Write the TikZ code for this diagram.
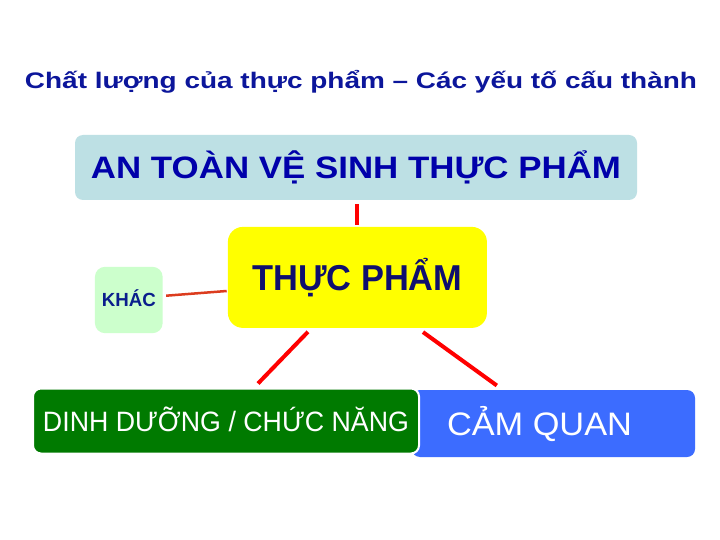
\documentclass[tikz,border=0pt]{standalone}
\usepackage{fontspec}
\setmainfont{Liberation Sans}
\usetikzlibrary{calc}
\newcommand{\fitw}[2]{\resizebox{#1}{\height}{#2}}
\definecolor{titleblue}{RGB}{12,22,155}
\definecolor{topfill}{RGB}{189,224,228}
\definecolor{toptext}{RGB}{0,0,170}
\definecolor{foodtext}{RGB}{15,15,110}
\definecolor{khacfill}{RGB}{204,255,204}
\definecolor{khactext}{RGB}{10,30,140}
\definecolor{boxgreen}{RGB}{0,122,0}
\definecolor{boxblue}{RGB}{60,108,255}
\definecolor{boxyellow}{RGB}{255,255,0}
\definecolor{linered}{RGB}{255,0,0}
\definecolor{lineorange}{RGB}{220,60,30}
\tikzset{
  box/.style={rectangle, inner sep=0pt, align=center},
  redline/.style={draw=linered, line width=4pt},
  thinline/.style={draw=lineorange, line width=2.5pt}
}
\begin{document}
\begin{tikzpicture}[x=1pt,y=-1pt]
\useasboundingbox[fill=white] (0,0) rectangle (720,540);
% title
\node[box, text=titleblue, text height=16pt, text depth=0pt] (title) at (361,80.5)
  {\fontsize{22.5}{22.5}\selectfont\bfseries\fitw{672pt}{Chất lượng của thực phẩm – Các yếu tố cấu thành}};
% top box
\node[box, fill=topfill, rounded corners=8pt, minimum width=562pt, minimum height=65pt,
  text=toptext, text height=22pt, text depth=0pt] (top) at (356,167.5)
  {\fontsize{31}{31}\selectfont\bfseries\fitw{530pt}{AN TOÀN VỆ SINH THỰC PHẨM}};
% food box
\node[box, fill=boxyellow, rounded corners=15pt, minimum width=259pt, minimum height=101pt,
  text=foodtext, text height=25.7pt, text depth=0pt] (food) at (357.4,277.4)
  {\fontsize{36}{36}\selectfont\bfseries\fitw{210pt}{THỰC PHẨM}};
% khac box
\node[box, fill=khacfill, rounded corners=10pt, minimum width=67.7pt, minimum height=66.3pt,
  text=khactext, text height=13.7pt, text depth=0pt] (khac) at (128.8,300)
  {\fontsize{19}{19}\selectfont\bfseries\fitw{54pt}{KHÁC}};
% blue box
\node[box, fill=boxblue, rounded corners=8pt, minimum width=283pt, minimum height=67pt,
  text=white, text height=23.3pt, text depth=0pt] (blue) at (553.5,423.5)
  {\fontsize{32.5}{32.5}\selectfont\fitw{185pt}{CẢM QUAN}\hspace*{28pt}};
% green box
\node[box, fill=boxgreen, draw=white, line width=2pt, rounded corners=8pt, minimum width=386pt, minimum height=65pt,
  text=white, text height=20pt, text depth=0pt] (green) at (226,421)
  {\fontsize{28}{28}\selectfont\fitw{366pt}{DINH DƯỠNG / CHỨC NĂNG}};
% connectors
\draw[redline, shorten <=1.7pt, shorten >=4pt] (food.north) -- (food.north |- top.south);
\draw[thinline] ($(khac.east)+(3.3,-4.3)$) -- ($(food.west)+(-1,13.6)$);
\draw[redline] ($(food.south west)+(80.3,3.7)$) -- ($(green.north west)+(226,-4)$);
\draw[redline] ($(food.south west)+(195.3,4)$) -- ($(blue.north west)+(85,-4.3)$);
\end{tikzpicture}
\end{document}
